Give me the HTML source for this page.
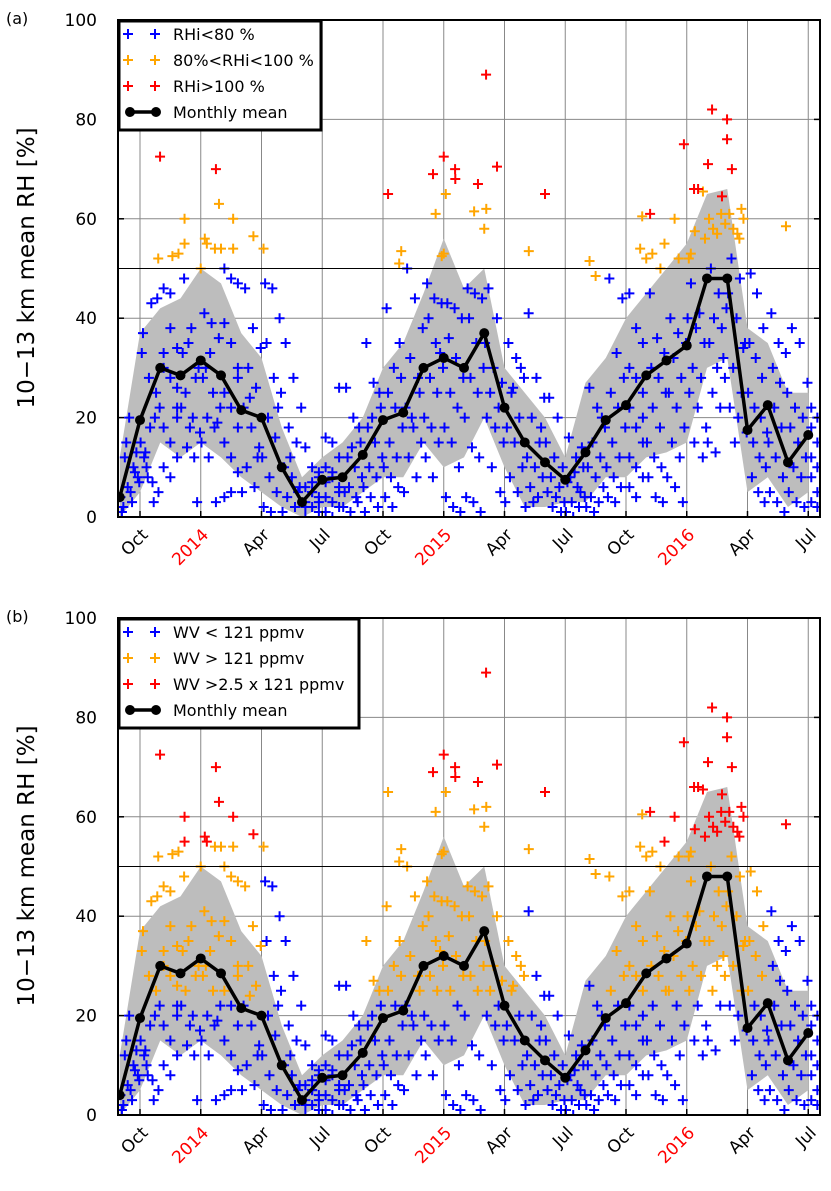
<!DOCTYPE html>
<html><head><meta charset="utf-8"><style>
body{margin:0;background:#fff}
svg{display:block;font-family:"DejaVu Sans","Liberation Sans",sans-serif}
</style></head><body>
<svg id="fig" width="831" height="1191" viewBox="0 0 831 1191" xmlns="http://www.w3.org/2000/svg"></svg>
<script>
// ---- data ----
const meanMonths = [-1,0,1,2,3,4,5,6,7,8,9,10,11,12,13,14,15,16,17,18,19,20,21,22,23,24,25,26,27,28,29,30,31,32,33];
const meanValues = [4,19.5,30,28.5,31.5,28.5,21.5,20,10,3,7.5,8,12.5,19.5,21,30,32,30,37,22,15,11,7.5,13,19.5,22.5,28.5,31.5,34.5,48,48,17.5,22.5,11,16.5];
const bandUpper = [12,37,42,44,50,47,37,32,18,8,12,15,20,30,35,45,56,46,50,30,25,20,12,27,32,40,45,50,55,65,66,38,35,25,25];
const bandLower = [0,5,15,12,15,12,8,5,2,0,2,2,5,8,8,15,10,12,20,10,2,2,3,3,8,8,12,13,15,30,32,5,8,2,5];
const blueByMonth = [
[2,5,8,12,3,7,15,10,4,6,9,1,20,13],
[37,28,20,15,10,7,5,12,18,25,33,8,3,22,13,43,44],
[46,45,34,33,28,22,18,15,12,10,8,26,30,38,20],
[48,38,30,25,20,17,14,12,22,35,28,33,18,3],
[41,39,36,30,25,22,20,18,15,12,3,28,33,19],
[50,48,47,39,35,30,25,22,18,15,12,9,4,5,28],
[46,38,34,30,26,22,18,14,10,6,5,24,12],
[47,46,40,35,28,25,20,16,12,8,5,2,1,22],
[35,28,22,18,15,10,8,6,4,2,1,12,5],
[14,10,8,6,5,4,3,2,1,0,7,9,2,5,3],
[16,15,12,10,8,6,4,3,2,1,0,5,7,9,26],
[26,20,15,12,10,8,6,4,2,1,3,5,14,18],
[35,27,22,18,15,12,10,8,6,4,2,1,20,25],
[42,30,28,25,22,18,15,12,10,8,6,4,2,35],
[50,44,38,32,28,22,18,15,12,8,5,20,25],
[47,44,43,40,35,30,28,25,20,18,15,12,8,33],
[43,42,40,36,32,28,25,22,18,15,10,4,2,1],
[46,45,44,40,35,30,28,25,20,14,12,4,3,1],
[46,40,35,30,27,25,22,20,18,15,10,5],
[35,32,28,25,20,18,15,10,8,5,3,26,30],
[41,28,24,20,15,12,10,8,6,4,2,3,18],
[24,20,15,12,10,8,6,5,4,3,2,1],
[16,12,10,8,6,4,3,2,1,0,5,7,9,14],
[26,22,18,15,12,10,8,6,4,3,2,1,20],
[48,33,28,25,22,18,15,12,10,8,6,4,3,44],
[45,38,35,30,28,25,22,18,15,12,10,8,6,4,20],
[45,36,33,30,28,25,22,18,15,12,10,8,4,3],
[40,37,35,32,28,25,22,18,15,12,8,6,3],
[47,41,40,38,35,30,28,25,22,18,15,12],
[50,45,42,40,38,35,30,28,25,22,15,13,32],
[52,48,45,40,35,30,25,22,20,17,15,34],
[49,45,38,35,32,28,25,22,20,17,15,12,10,8,5,3],
[41,35,33,30,27,25,22,18,15,12,8,5,3,1],
[38,35,27,22,20,18,15,12,10,8,5,3,2],
[22,20,18,15,12,10,8,5,3,2]
];
const blueFirstMonth = -1;
const orangeMonths = [0.9,1.6,1.9,2.2,2.2,3,3.2,3.3,3.7,3.9,4,4.6,4.6,5.6,6.1,12.8,12.9,14.6,14.9,15,15.1,16.5,17.1,17,19.2,22.2,22.5,24.7,24.8,25,25.3,25.9,26.4,26.6,27.2,27.4,27.8,27.9,28.1,28.3,28.5,28.7,28.9,29.1,29.3,29.5,29.7,29.8,31.9,27.1,25.7,29.6];
const orangeValues = [52,52.5,53,55,60,50,56,55,54,63,54,54,60,56.5,54,51,53.5,61,52.5,53,65,61.5,62,58,53.5,51.5,48.5,54,60.5,52,53,55,60,52,53,57.5,65.5,56,60,58,57,61,59,61,58,57,62,60,58.5,52,50,56];
const redMonths = [0.99,3.75,12.25,14.47,15,15.56,15.57,16.69,17.09,17.63,20,26.86,27.36,27.56,28.05,28.25,28.74,28.99,28.99,29.23,25.19];
const redValues = [72.5,70,65,69,72.5,70,68,67,89,70.5,65,75,66,66,71,82,64.5,80,76,70,61];
const yTicks = [0,20,40,60,80,100];
const xTickMonths = [0,3,6,9,12,15,18,21,24,27,30,33];
const xTickLabels = ["Oct","2014","Apr","Jul","Oct","2015","Apr","Jul","Oct","2016","Apr","Jul"];
const legendA = ["RHi<80 %","80%<RHi<100 %","RHi>100 %","Monthly mean"];
const legendB = ["WV < 121 ppmv","WV > 121 ppmv","WV >2.5 x 121 ppmv","Monthly mean"];

// ---- drawing ----
const NS="http://www.w3.org/2000/svg";
const svg=document.getElementById('fig');
function el(tag,attrs,parent){const e=document.createElementNS(NS,tag);for(const k in attrs)e.setAttribute(k,attrs[k]);(parent||svg).appendChild(e);return e;}
const X0=118,X1=820;
const xs=m=>140+m*20.25;
const BLUE="#0000ff",ORANGE="#ffa500",RED="#ff0000";

function panel(top,label,legend,isB){
  const bot=top+497;
  const ys=v=>bot-v*4.97;
  const g=el('g',{});
  
  
  const clipId='clip'+(isB?'b':'a');
  const cp=el('clipPath',{id:clipId},g);el('rect',{x:X0,y:top,width:X1-X0,height:497},cp);
  yTicks.forEach(v=>{if(v>0&&v<100){const l=el('line',{x1:X0,x2:X1,y1:ys(v),y2:ys(v),stroke:'#888','stroke-width':1},g);}});
  xTickMonths.forEach(m=>{const l=el('line',{x1:xs(m),x2:xs(m),y1:top,y2:bot,stroke:'#888','stroke-width':1},g);});
  const inner=el('g',{'clip-path':'url(#'+clipId+')'},g);
  let pts=meanMonths.map((m,i)=>xs(m)+','+ys(bandUpper[i]));
  pts=pts.concat(meanMonths.map((m,i)=>xs(m)+','+ys(bandLower[i])).reverse());
  const band=el('polygon',{points:pts.join(' '),fill:'#bdbdbd'},inner);
  
  
  const h50=el('line',{x1:X0,x2:X1,y1:ys(50),y2:ys(50),stroke:'#000','stroke-width':1},g);
  
  
  function plus(m,v,c,name){
    const x=xs(m),y=ys(v);
    const p=el('path',{d:`M${x-5},${y}h10M${x},${y-5}v10`,stroke:c,'stroke-width':2},inner);
    
    
  }
  blueByMonth.forEach((arr,i)=>{
    const m0=blueFirstMonth+i;const span=(i===blueByMonth.length-1)?0.6:1;
    const n=arr.length;
    arr.forEach((v,j)=>{
      const k=(j*5+2)%n;
      const m=m0+(k+0.5)/n*span;
      let c=BLUE;
      if(isB){const winter=(m>=0&&m<6)||(m>=11&&m<19)||(m>=23&&m<31); if(winter&&v>=24)c=ORANGE;}
      plus(m,v,c,'point-low');
    });
  });
  orangeMonths.forEach((m,i)=>{let c=ORANGE;if(isB&&orangeValues[i]>=55&&(m<6||m>25))c=RED;plus(m,orangeValues[i],c,'point-mid');});
  redMonths.forEach((m,i)=>{let c=RED;if(isB&&redValues[i]===65&&m<13)c=ORANGE;plus(m,redValues[i],c,'point-high');});
  const line=el('polyline',{points:meanMonths.map((m,i)=>xs(m)+','+ys(meanValues[i])).join(' '),fill:'none',stroke:'#000','stroke-width':3.5},inner);
  
  
  meanMonths.forEach((m,i)=>{const c=el('circle',{cx:xs(m),cy:ys(meanValues[i]),r:5,fill:'#000'},inner);});
  const fr=el('rect',{x:X0,y:top,width:X1-X0,height:497,fill:'none',stroke:'#000','stroke-width':2},g);
  
  
  yTicks.forEach(v=>{
    el('line',{x1:X0,x2:X0+6,y1:ys(v),y2:ys(v),stroke:'#000','stroke-width':1.5},g);
    el('line',{x1:X1-6,x2:X1,y1:ys(v),y2:ys(v),stroke:'#000','stroke-width':1.5},g);
    const t=el('text',{x:97,y:ys(v)+6,'text-anchor':'end','font-size':17},g);t.textContent=v;
    
    
  });
  xTickMonths.forEach((m,i)=>{
    el('line',{x1:xs(m),x2:xs(m),y1:bot,y2:bot-6,stroke:'#000','stroke-width':1.5},g);
    const x=xs(m),y=bot+16;
    const t=el('text',{x:x+6,y:y+4,'text-anchor':'end','font-size':17,fill:/^\d/.test(xTickLabels[i])?RED:'#000',transform:`rotate(-45 ${x+6} ${y})`},g);
    t.textContent=xTickLabels[i];
    
    
  });
  const yt=el('text',{x:0,y:0,'font-size':23,'text-anchor':'middle',transform:`translate(34 ${top+248}) rotate(-90)`},g);
  yt.textContent='10\u221213 km mean RH [%]';
  
  
  const pl=el('text',{x:6,y:top+4,'font-size':16},g);pl.textContent=label;
  
  
  const lw=isB?240:202;
  const lg=el('g',{},g);
  
  
  el('rect',{x:X0+1,y:top+1,width:lw,height:109,fill:'#fff',stroke:'#000','stroke-width':3},lg);
  const cols=[BLUE,ORANGE,RED,'#000'];
  legend.forEach((s,i)=>{
    const y=top+14+i*26;
    if(i<3){[128,155].forEach(x=>el('path',{d:`M${x-5},${y}h10M${x},${y-5}v10`,stroke:cols[i],'stroke-width':2},lg));}
    else{el('line',{x1:128,x2:158,y1:y,y2:y,stroke:'#000','stroke-width':3.5},lg);el('circle',{cx:130,cy:y,r:5},lg);el('circle',{cx:156,cy:y,r:5},lg);}
    const t=el('text',{x:173,y:y+6,'font-size':16},lg);t.textContent=s;
    
    
  });
}
panel(20,'(a)',legendA,false);
panel(618,'(b)',legendB,true);
</script>
</body></html>
